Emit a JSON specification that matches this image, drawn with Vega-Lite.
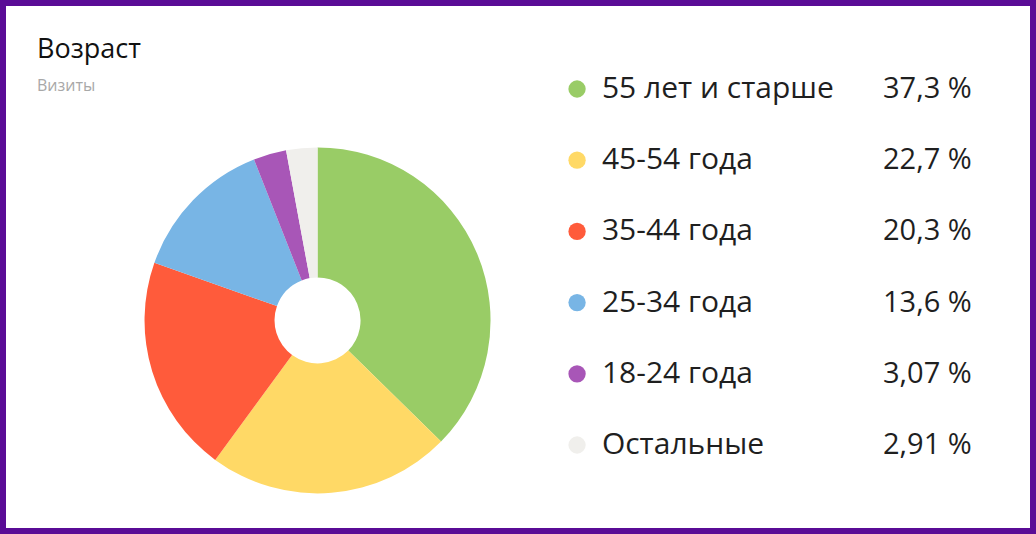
{
  "$schema": "https://vega.github.io/schema/vega-lite/v6.json",
  "description": "Возраст посетителей, доля визитов",
  "width": 1036,
  "height": 534,
  "autosize": {"type": "fit", "contains": "padding"},
  "padding": 0,
  "background": "white",
  "config": {
    "view": {"stroke": "#5a0c96", "strokeWidth": 12},
    "font": "Open Sans"
  },
  "title": {
    "text": "Возраст",
    "subtitle": "Визиты",
    "anchor": "start",
    "frame": "group",
    "dx": 37,
    "offset": -95,
    "fontSize": 27,
    "fontWeight": "normal",
    "color": "#111111",
    "subtitleFontSize": 16,
    "subtitleColor": "#a8a8a8",
    "subtitlePadding": 14
  },
  "data": {
    "values": [
      {"label": "55 лет и старше", "share": 37.3, "pct": "37,3 %"},
      {"label": "45-54 года", "share": 22.7, "pct": "22,7 %"},
      {"label": "35-44 года", "share": 20.3, "pct": "20,3 %"},
      {"label": "25-34 года", "share": 13.6, "pct": "13,6 %"},
      {"label": "18-24 года", "share": 3.07, "pct": "3,07 %"},
      {"label": "Остальные", "share": 2.91, "pct": "2,91 %"}
    ]
  },
  "encoding": {
    "color": {
      "field": "label",
      "type": "nominal",
      "legend": null,
      "scale": {
        "domain": ["55 лет и старше", "45-54 года", "35-44 года", "25-34 года", "18-24 года", "Остальные"],
        "range": ["#99cc66", "#ffd966", "#ff5b3b", "#78b5e5", "#a856b7", "#f0efec"]
      }
    }
  },
  "layer": [
    {
      "mark": {"type": "arc", "outerRadius": 173, "innerRadius": 43},
      "encoding": {
        "theta": {"field": "share", "type": "quantitative", "stack": true},
        "order": {"field": "share", "sort": "descending"},
        "x": {"datum": 30.65, "type": "quantitative", "scale": {"domain": [0, 100], "nice": false, "zero": false}, "axis": null},
        "y": {"datum": 40, "type": "quantitative", "scale": {"domain": [0, 100], "nice": false, "zero": false}, "axis": null}
      }
    },
    {
      "mark": {"type": "circle", "size": 300, "opacity": 1},
      "encoding": {
        "x": {"datum": 55.7, "type": "quantitative", "axis": null},
        "y": {"field": "label", "type": "nominal", "sort": null, "scale": {"type": "band", "paddingInner": 0.5, "paddingOuter": 1}, "axis": null}
      }
    },
    {
      "mark": {"type": "text", "align": "left", "baseline": "middle", "fontSize": 30},
      "encoding": {
        "x": {"datum": 58.1, "type": "quantitative", "axis": null},
        "y": {"field": "label", "type": "nominal", "sort": null, "scale": {"type": "band", "paddingInner": 0.5, "paddingOuter": 1}, "axis": null},
        "text": {"field": "label"},
        "color": {"value": "#1f1f1f"}
      }
    },
    {
      "mark": {"type": "text", "align": "right", "baseline": "middle", "fontSize": 29},
      "encoding": {
        "x": {"datum": 93.8, "type": "quantitative", "axis": null},
        "y": {"field": "label", "type": "nominal", "sort": null, "scale": {"type": "band", "paddingInner": 0.5, "paddingOuter": 1}, "axis": null},
        "text": {"field": "pct"},
        "color": {"value": "#1f1f1f"}
      }
    }
  ],
  "resolve": {"scale": {"y": "independent"}}
}
